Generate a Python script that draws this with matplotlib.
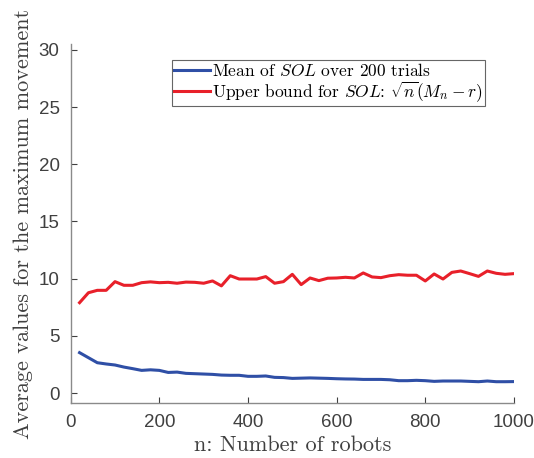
import matplotlib
matplotlib.use("Agg")
import matplotlib.pyplot as plt
import numpy as np

plt.rcParams['mathtext.fontset'] = 'cm'
plt.rcParams['font.family'] = ['Liberation Sans', 'DejaVu Sans']

n_robots = list(range(20, 1001, 20))
upper_bound = [7.9, 8.77, 8.98, 8.98, 9.74, 9.42, 9.42, 9.65, 9.72, 9.65,
               9.68, 9.6, 9.7, 9.68, 9.6, 9.8, 9.37, 10.26, 9.97, 9.97,
               9.97, 10.18, 9.6, 9.74, 10.38, 9.48, 10.06, 9.83, 10.04, 10.06,
               10.12, 10.06, 10.5, 10.15, 10.09, 10.26, 10.35, 10.3, 10.3, 9.8,
               10.41, 9.97, 10.55, 10.67, 10.44, 10.2, 10.67, 10.47, 10.38, 10.44]
mean_sol = [3.53, 3.09, 2.65, 2.54, 2.45, 2.27, 2.13, 1.98, 2.03, 1.98,
            1.8, 1.83, 1.72, 1.69, 1.66, 1.63, 1.57, 1.55, 1.55, 1.46,
            1.46, 1.49, 1.37, 1.35, 1.28, 1.3, 1.32, 1.3, 1.28, 1.25,
            1.23, 1.22, 1.19, 1.19, 1.19, 1.16, 1.08, 1.08, 1.11, 1.08,
            1.02, 1.05, 1.05, 1.05, 1.02, 0.99, 1.05, 0.99, 0.99, 1.0]

xticks = [0, 200, 400, 600, 800, 1000]
yticks = [0, 5, 10, 15, 20, 25, 30]

fig = plt.figure(figsize=(5.34, 4.58), dpi=100)
ax = fig.add_axes([0.1324, 0.1194, 0.83, 0.784])

blue = '#2f4fa6'
red = '#e8202a'
ax.plot(n_robots, mean_sol, color=blue, lw=2.2,
        label=r'Mean of $SOL$ over 200 trials')
ax.plot(n_robots, upper_bound, color=red, lw=2.2,
        label=r'Upper bound for $SOL$: $\sqrt{n}(M_n-r)$')

ax.set_xlim(0, 1000)
ax.set_ylim(-0.9, 30.5)
ax.set_xticks(xticks)
ax.set_yticks(yticks)
for s in ['top', 'right']:
    ax.spines[s].set_visible(False)
for s in ['left', 'bottom']:
    ax.spines[s].set_color('#8a8a8a')
    ax.spines[s].set_linewidth(1.0)
ax.tick_params(direction='in', length=4, colors='#404040', labelsize=13.5,
               width=0.8, pad=8)

ax.set_xlabel('n: Number of robots', fontsize=16, color='#404040',
              labelpad=3, fontfamily='cmr10')
ax.set_ylabel('Average values for the maximum movement', fontsize=16,
              color='#404040', labelpad=4, fontfamily='cmr10')

leg = ax.legend(loc='upper left', bbox_to_anchor=(0.228, 0.957),
                prop={'family': 'cmr10', 'size': 12.5},
                frameon=True, fancybox=False, handlelength=2.1, handletextpad=0.1,
                borderpad=0.12, labelspacing=0.0, borderaxespad=0,
                handleheight=0.6)
leg.get_frame().set_edgecolor('#404040')
leg.get_frame().set_linewidth(0.8)

fig.savefig('out.png', dpi=100)
